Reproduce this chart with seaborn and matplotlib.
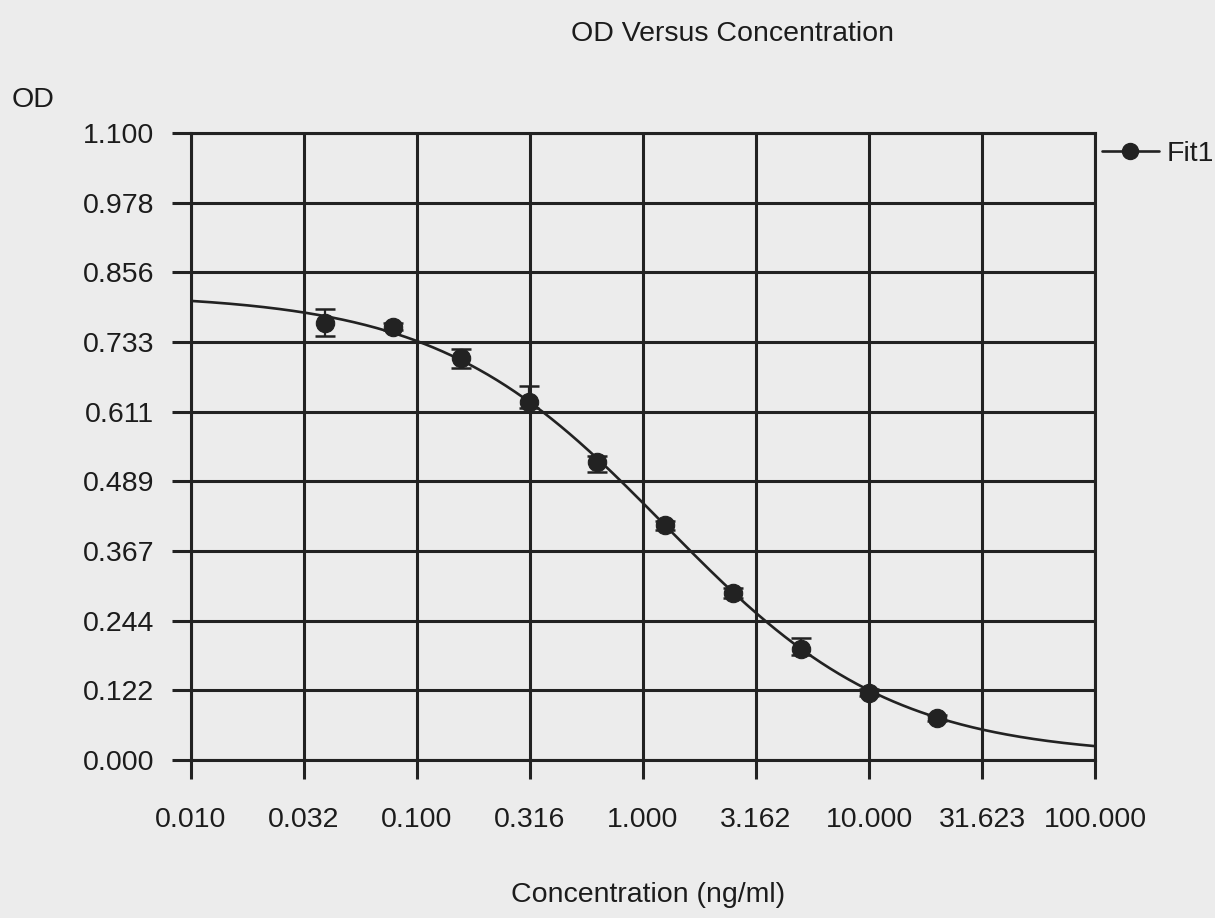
import numpy as np
import pandas as pd
import matplotlib
matplotlib.use("Agg")
import matplotlib.pyplot as plt
from matplotlib.lines import Line2D
from matplotlib.ticker import FixedLocator, NullLocator
import seaborn as sns

# Standard dilution series and measured optical density (mean of replicates)
concentration = [0.039, 0.078, 0.156, 0.3125, 0.625, 1.25, 2.5, 5.0, 10.0, 20.0]
od_mean = [0.767, 0.760, 0.705, 0.628, 0.523, 0.412, 0.293, 0.195, 0.118, 0.074]
err_low = [0.023, 0.006, 0.017, 0.010, 0.018, 0.008, 0.008, 0.010, 0.006, 0.005]
err_high = [0.024, 0.006, 0.016, 0.028, 0.010, 0.008, 0.008, 0.019, 0.006, 0.005]

# Four-parameter logistic fit (Fit1): top, slope, EC50, bottom
fit_top = 0.818
fit_slope = 0.86
fit_ec50 = 1.25
fit_bottom = 0.006

x_ticks = [0.01, 0.0316, 0.1, 0.316, 1.0, 3.162, 10.0, 31.623, 100.0]
x_ticklabels = ["0.010", "0.032", "0.100", "0.316", "1.000", "3.162",
                "10.000", "31.623", "100.000"]
y_ticks = [0.0, 0.122, 0.244, 0.367, 0.489, 0.611, 0.733, 0.856, 0.978, 1.100]
y_ticklabels = ["0.000", "0.122", "0.244", "0.367", "0.489", "0.611",
                "0.733", "0.856", "0.978", "1.100"]

sns.set_theme(style="white")
plt.rcParams["font.family"] = ["Liberation Sans", "DejaVu Sans"]

bg = "#ececec"
ink = "#222222"
txt = "#1c1c1c"

fig = plt.figure(figsize=(12.15, 9.18), dpi=100, facecolor=bg)
ax = fig.add_axes([191 / 1215, 158 / 918, (1095 - 191) / 1215, (760 - 133) / 918])
ax.set_facecolor(bg)

# Fitted curve across the full concentration range
xs = np.logspace(np.log10(0.01), np.log10(100), 400)
fit_df = pd.DataFrame({
    "conc": xs,
    "od": fit_bottom + (fit_top - fit_bottom) / (1 + (xs / fit_ec50) ** fit_slope),
})
sns.lineplot(data=fit_df, x="conc", y="od", ax=ax, color=ink, lw=1.9,
             zorder=4, legend=False)

# Standards with error bars
pts = pd.DataFrame({"conc": concentration, "od": od_mean})
ax.errorbar(concentration, od_mean, yerr=[err_low, err_high], fmt="none",
            ecolor=ink, elinewidth=1.6, capsize=7, capthick=1.8, zorder=5)
sns.scatterplot(data=pts, x="conc", y="od", ax=ax, color=ink, s=175,
                edgecolor=ink, linewidth=0.8, zorder=6, legend=False)

ax.set_xscale("log")
ax.set_xlim(0.01, 100)
ax.set_ylim(0.0, 1.1)
ax.xaxis.set_major_locator(FixedLocator(x_ticks))
ax.xaxis.set_minor_locator(NullLocator())
ax.set_xticklabels(x_ticklabels)
ax.set_yticks(y_ticks)
ax.set_yticklabels(y_ticklabels)

ax.grid(True, which="major", color=ink, lw=2.2)
ax.set_axisbelow(True)
for s in ax.spines.values():
    s.set_color(ink)
    s.set_linewidth(2.2)
ax.tick_params(axis="both", which="major", direction="out", length=13.5,
               width=2.2, color=ink, labelsize=20.5, labelcolor=txt,
               bottom=True, left=True)
ax.tick_params(axis="x", pad=20)
ax.tick_params(axis="y", pad=13)
ax.set_xlabel("")
ax.set_ylabel("")

fig.text(732 / 1215, 1 - 34 / 918, "OD Versus Concentration", ha="center",
         va="center", fontsize=20.5, color=txt)
fig.text(12 / 1215, 1 - 100 / 918, "OD", ha="left", va="center",
         fontsize=20.5, color=txt)
fig.text(648 / 1215, 1 - 895 / 918, "Concentration (ng/ml)", ha="center",
         va="center", fontsize=20.5, color=txt)

handle = Line2D([], [], color=ink, lw=1.9, marker="o", markersize=11.5,
                markerfacecolor=ink, markeredgecolor=ink)
fig.legend([handle], ["Fit1"], loc="center left",
           bbox_to_anchor=(1076 / 1215, 1 - 154 / 918), frameon=False,
           fontsize=20.5, handlelength=2.0, handletextpad=0.3,
           labelcolor=txt)

fig.savefig("out.png", dpi=100, facecolor=bg)
